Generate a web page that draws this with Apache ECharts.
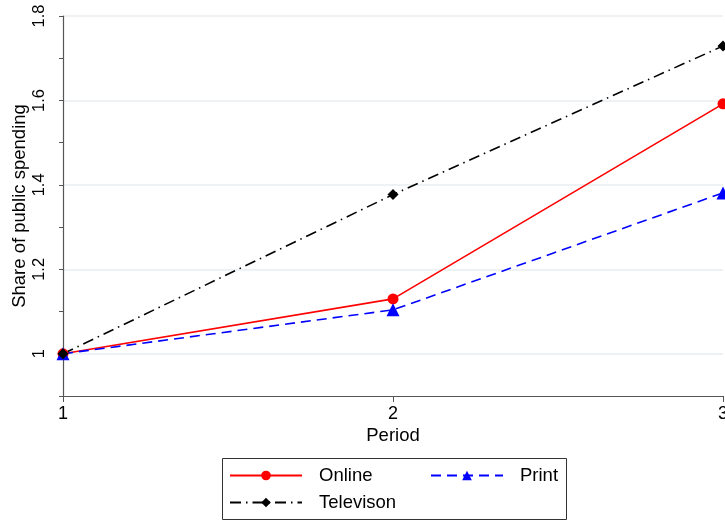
<!DOCTYPE html>
<html><head><meta charset="utf-8">
<script src="https://cdn.jsdelivr.net/npm/echarts@6/dist/echarts.min.js"></script>
<style>html,body{margin:0;padding:0;background:#fff}#c{width:725px;height:522px}</style>
</head><body><div id="c"></div>
<script>
const periods = [1, 2, 3];
const online = [1, 1.13, 1.592];
const print = [1, 1.104, 1.381];
const television = [1, 1.377, 1.729];
const yTickLabels = ['1', '1.2', '1.4', '1.6', '1.8'];

const font = 'Liberation Sans, Arial, sans-serif';
const chart = echarts.init(document.getElementById('c'));
function pts(v){ return periods.map((p,i)=>[p, v[i]]); }
const legendBase = {
  itemWidth: 72, itemHeight: 12, itemGap: 0, orient: 'horizontal', padding: 0,
  textStyle: {fontFamily: font, fontSize: 18.5, color: '#000', padding: [0,0,0,12]},
  selectedMode: false
};
chart.setOption({
  animation: false,
  backgroundColor: '#fff',
  grid: {left: 63, right: 2, top: 16, bottom: 126, containLabel: false, outerBoundsMode: 'none'},
  xAxis: {
    type: 'value', min: 1, max: 3, interval: 1,
    name: 'Period', nameLocation: 'middle', nameGap: 30, nameMoveOverlap: false,
    nameTextStyle: {fontFamily: font, fontSize: 18.5, color: '#000'},
    axisLine: {show: true, lineStyle: {color: '#555', width: 1.2}},
    axisTick: {show: true, length: 6, lineStyle: {color: '#555'}},
    axisLabel: {fontFamily: font, fontSize: 18, color: '#000', margin: 9},
    splitLine: {show: false}
  },
  yAxis: {
    type: 'value', min: 0.9, max: 1.8, interval: 0.1,
    name: 'Share of public spending', nameLocation: 'middle', nameGap: 34, nameMoveOverlap: false,
    nameTextStyle: {fontFamily: font, fontSize: 18.5, color: '#000'},
    axisLine: {show: true, lineStyle: {color: '#555', width: 1.2}},
    axisTick: {show: true, length: 4, lineStyle: {color: ['rgba(0,0,0,0)', '#777']}},
    axisLabel: {
      fontFamily: font, fontSize: 16.5, color: '#000', rotate: 90, margin: 15,
      formatter: function(v){
        const k = Math.round(v*10);
        if (k % 2 !== 0) return '';
        const s = (k/10).toString();
        return yTickLabels.indexOf(s) >= 0 ? s : '';
      }
    },
    splitLine: {show: true, lineStyle: {color: ['rgba(0,0,0,0)', '#e8eef1'], width: 1.5}}
  },
  legend: [
    Object.assign({}, legendBase, {left: 229, top: 466, data: ['Online']}),
    Object.assign({}, legendBase, {left: 430, top: 466, data: ['Print']}),
    Object.assign({}, legendBase, {left: 229, top: 493, data: ['Televison']})
  ],
  graphic: [{
    type: 'rect', shape: {x: 222.5, y: 458.5, width: 344, height: 61},
    style: {fill: 'none', stroke: '#333', lineWidth: 1}
  }],
  series: [
    {name: 'Online', type: 'line', data: pts(online), symbol: 'circle', symbolSize: 11,
     itemStyle: {color: '#ff0000'}, lineStyle: {color: '#ff0000', width: 1.6, type: 'solid'}},
    {name: 'Print', type: 'line', data: pts(print), symbol: 'triangle', symbolSize: 13,
     itemStyle: {color: '#0000ff'}, lineStyle: {color: '#0000ff', width: 1.6, type: [10, 6]}},
    {name: 'Televison', type: 'line', data: pts(television), symbol: 'diamond', symbolSize: 11,
     itemStyle: {color: '#000'}, lineStyle: {color: '#000', width: 1.6, type: [11, 5, 1.5, 5]}}
  ]
});
</script></body></html>
